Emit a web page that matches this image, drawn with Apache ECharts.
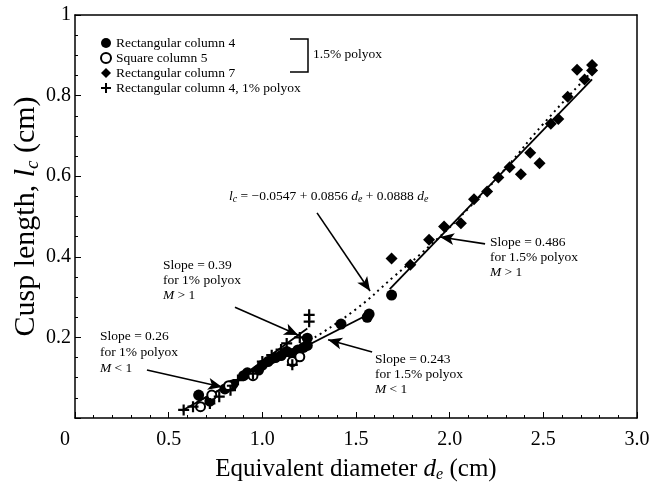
<!DOCTYPE html>
<html><head><meta charset="utf-8">
<script src="https://cdn.jsdelivr.net/npm/echarts@6/dist/echarts.min.js"></script>
<style>html,body{margin:0;padding:0;background:#fff}#c{width:654px;height:482px}</style>
</head><body><div id="c"></div>
<script>
// ---- data ----
var rect4X = [0.66, 0.72, 0.80, 0.84, 0.90, 0.92, 0.98, 1.00, 1.03, 1.07, 1.10, 1.13, 1.16, 1.19, 1.22, 1.24, 1.24, 1.42, 1.56, 1.57, 1.69];
var rect4Y = [0.057, 0.042, 0.072, 0.082, 0.105, 0.112, 0.119, 0.131, 0.140, 0.150, 0.155, 0.165, 0.160, 0.169, 0.175, 0.198, 0.180, 0.233, 0.250, 0.258, 0.305];
var sq5X = [0.67, 0.73, 0.82, 0.95, 1.16, 1.20];
var sq5Y = [0.028, 0.057, 0.080, 0.105, 0.140, 0.152];
var rect7X = [1.69, 1.79, 1.89, 1.97, 2.06, 2.13, 2.20, 2.26, 2.32, 2.38, 2.43, 2.48, 2.54, 2.58, 2.63, 2.68, 2.72, 2.76, 2.76];
var rect7Y = [0.396, 0.380, 0.442, 0.475, 0.483, 0.543, 0.562, 0.597, 0.622, 0.605, 0.658, 0.632, 0.730, 0.742, 0.797, 0.864, 0.840, 0.876, 0.862];
var cross1X = [0.58, 0.63, 0.72, 0.77, 0.83, 0.84, 0.87, 0.95, 1.00, 1.05, 1.10, 1.13, 1.16, 1.20, 1.25, 1.25];
var cross1Y = [0.020, 0.028, 0.036, 0.053, 0.069, 0.080, 0.094, 0.110, 0.140, 0.156, 0.170, 0.185, 0.132, 0.200, 0.256, 0.239];
var fit1X = [0.57, 0.86, 1.24];
var fit1Y = [0.018, 0.093, 0.222];
var fit15LowX = [0.65, 1.57];
var fit15LowY = [0.040, 0.258];
var fit15HighX = [1.68, 2.76];
var fit15HighY = [0.320, 0.840];
var curveX = [1.28, 1.50, 1.70, 1.90, 2.10, 2.30, 2.50, 2.76];
var curveY = [0.200, 0.270, 0.350, 0.430, 0.520, 0.620, 0.730, 0.860];
var xTicks = ['0', '0.5', '1.0', '1.5', '2.0', '2.5', '3.0'];
var yTicks = ['', '0.2', '0.4', '0.6', '0.8', '1'];
var legendNames = ['Rectangular column 4', 'Square column 5', 'Rectangular column 7', 'Rectangular column 4, 1% polyox'];
// arrows: [tailX, tailY, headX, headY] in data units
var arrows = [
  [1.292, 0.509, 1.575, 0.315],
  [2.189, 0.432, 1.949, 0.449],
  [0.854, 0.275, 1.191, 0.206],
  [0.384, 0.119, 0.785, 0.077],
  [1.586, 0.164, 1.351, 0.194]
];

function zip(a, b) { return a.map(function (v, i) { return [v, b[i]]; }); }
var SERIF = 'Liberation Serif, Times New Roman, serif';
var plus = 'path://M4,0h2v4h4v2h-4v4h-2v-4h-4v-2h4z';
var AF = 13.5;

function annRich(lh) {
  return {
    n: { fontFamily: SERIF, fontSize: AF, color: '#000', lineHeight: lh },
    i: { fontFamily: SERIF, fontStyle: 'italic', fontSize: AF, color: '#000', lineHeight: lh },
    sub: { fontFamily: SERIF, fontStyle: 'italic', fontSize: 10, color: '#000', padding: [7, 0, 0, 0] }
  };
}
function titleRich(fs) {
  return {
    n: { fontFamily: SERIF, fontSize: fs, color: '#000' },
    i: { fontFamily: SERIF, fontStyle: 'italic', fontSize: fs, color: '#000' },
    sub: { fontFamily: SERIF, fontStyle: 'italic', fontSize: Math.round(fs * 0.64), color: '#000', padding: [Math.round(fs * 0.44), 0, 0, 0] }
  };
}

var chart = echarts.init(document.getElementById('c'), null, { renderer: 'canvas' });
var option = {
  animation: false,
  backgroundColor: '#fff',
  grid: { left: 75, right: 17, top: 15, bottom: 64, containLabel: false, outerBoundsMode: 'none' },
  legend: {
    data: legendNames,
    orient: 'vertical',
    left: 95, top: 31,
    itemWidth: 10, itemHeight: 10, itemGap: 1,
    textStyle: { fontFamily: SERIF, fontSize: AF, color: '#000' },
    selectedMode: false
  },
  xAxis: [{
    type: 'value', min: 0, max: 3, interval: 0.5,
    name: '{n|Equivalent diameter }{i|d}{sub|e}{n| (cm)}',
    nameLocation: 'middle', nameGap: 38,
    nameTextStyle: { rich: titleRich(25) },
    axisLine: { lineStyle: { color: '#000', width: 1.5 } },
    axisTick: { inside: true, length: 6, lineStyle: { color: '#000' } },
    minorTick: { show: true, splitNumber: 5, length: 3, lineStyle: { color: '#000' } },
    splitLine: { show: false },
    axisLabel: {
      margin: 12, fontFamily: SERIF, fontSize: 20, color: '#000',
      formatter: function (v) {
        var i = Math.round(v / 0.5);
        return i === 0 ? '{z|' + xTicks[0] + '}' : xTicks[i];
      },
      rich: { z: { fontFamily: SERIF, fontSize: 20, color: '#000', padding: [0, 20, 0, 0] } }
    }
  }, {
    type: 'value', min: 0, max: 3, position: 'top',
    axisLine: { show: true, onZero: false, lineStyle: { color: '#000', width: 1.5 } },
    axisTick: { show: false }, axisLabel: { show: false }, splitLine: { show: false }
  }],
  yAxis: [{
    type: 'value', min: 0, max: 1, interval: 0.2,
    name: '{n|Cusp length, }{i|l}{sub|c}{n| (cm)}',
    nameLocation: 'middle', nameGap: 33, nameMoveOverlap: false,
    nameTextStyle: { rich: titleRich(30) },
    axisLine: { show: true, lineStyle: { color: '#000', width: 1.5 } },
    axisTick: { show: true, inside: true, length: 6, lineStyle: { color: '#000' } },
    minorTick: { show: true, splitNumber: 4, length: 3, lineStyle: { color: '#000' } },
    splitLine: { show: false },
    axisLabel: {
      margin: 4, fontFamily: SERIF, fontSize: 20, color: '#000',
      formatter: function (v) { return yTicks[Math.round(v / 0.2)]; }
    }
  }, {
    type: 'value', min: 0, max: 1, position: 'right',
    axisLine: { show: true, onZero: false, lineStyle: { color: '#000', width: 1.5 } },
    axisTick: { show: false }, axisLabel: { show: false }, splitLine: { show: false }
  }],
  series: [
    { name: 'fit1', type: 'line', data: zip(fit1X, fit1Y), symbol: 'none', lineStyle: { color: '#000', width: 1.8 }, z: 2 },
    { name: 'fit15low', type: 'line', data: zip(fit15LowX, fit15LowY), symbol: 'none', lineStyle: { color: '#000', width: 1.8 }, z: 2 },
    { name: 'fit15high', type: 'line', data: zip(fit15HighX, fit15HighY), symbol: 'none', lineStyle: { color: '#000', width: 1.8 }, z: 2 },
    { name: 'curve', type: 'line', data: zip(curveX, curveY), smooth: true, symbol: 'none', lineStyle: { color: '#000', width: 2, type: [2, 4] }, z: 2 },
    { name: legendNames[0], type: 'scatter', data: zip(rect4X, rect4Y), symbol: 'circle', symbolSize: 11, itemStyle: { color: '#000', opacity: 1 }, z: 5 },
    { name: legendNames[1], type: 'scatter', data: zip(sq5X, sq5Y), symbol: 'emptyCircle', symbolSize: 9, itemStyle: { color: '#000', borderColor: '#000', borderWidth: 2, opacity: 1 }, z: 6 },
    { name: legendNames[2], type: 'scatter', data: zip(rect7X, rect7Y), symbol: 'diamond', symbolSize: 12, itemStyle: { color: '#000', opacity: 1 }, z: 5 },
    { name: legendNames[3], type: 'scatter', data: zip(cross1X, cross1Y), symbol: plus, symbolSize: 11, itemStyle: { color: '#000', opacity: 1 }, z: 6,
      markLine: {
        silent: true, symbol: ['none', 'arrow'], symbolSize: [9, 14],
        label: { show: false },
        lineStyle: { color: '#000', width: 1.6, type: 'solid', opacity: 1 },
        data: arrows.map(function (a) { return [{ coord: [a[0], a[1]] }, { coord: [a[2], a[3]] }]; })
      }
    }
  ],
  graphic: [
    { type: 'polyline', shape: { points: [[290, 39], [308, 39], [308, 72], [290, 72]] }, style: { stroke: '#000', lineWidth: 1.5, fill: null } },
    { type: 'text', left: 313, top: 47, style: { text: '1.5% polyox', font: AF + 'px ' + SERIF, fill: '#000' } },
    { type: 'text', left: 229, top: 189, style: {
      text: '{i|l}{sub|c}{n| = \u22120.0547 + 0.0856 }{i|d}{sub|e}{n| + 0.0888 }{i|d}{sub|e}',
      rich: annRich(16) } },
    { type: 'text', left: 490, top: 235, style: { text: '{n|Slope = 0.486}\n{n|for 1.5% polyox}\n{i|M}{n| > 1}', rich: annRich(15) } },
    { type: 'text', left: 163, top: 258, style: { text: '{n|Slope = 0.39}\n{n|for 1% polyox}\n{i|M}{n| > 1}', rich: annRich(15) } },
    { type: 'text', left: 100, top: 329, style: { text: '{n|Slope = 0.26}\n{n|for 1% polyox}\n{i|M}{n| < 1}', rich: annRich(16) } },
    { type: 'text', left: 375, top: 352, style: { text: '{n|Slope = 0.243}\n{n|for 1.5% polyox}\n{i|M}{n| < 1}', rich: annRich(15) } }
  ]
};
chart.setOption(option);
</script>
</body></html>
